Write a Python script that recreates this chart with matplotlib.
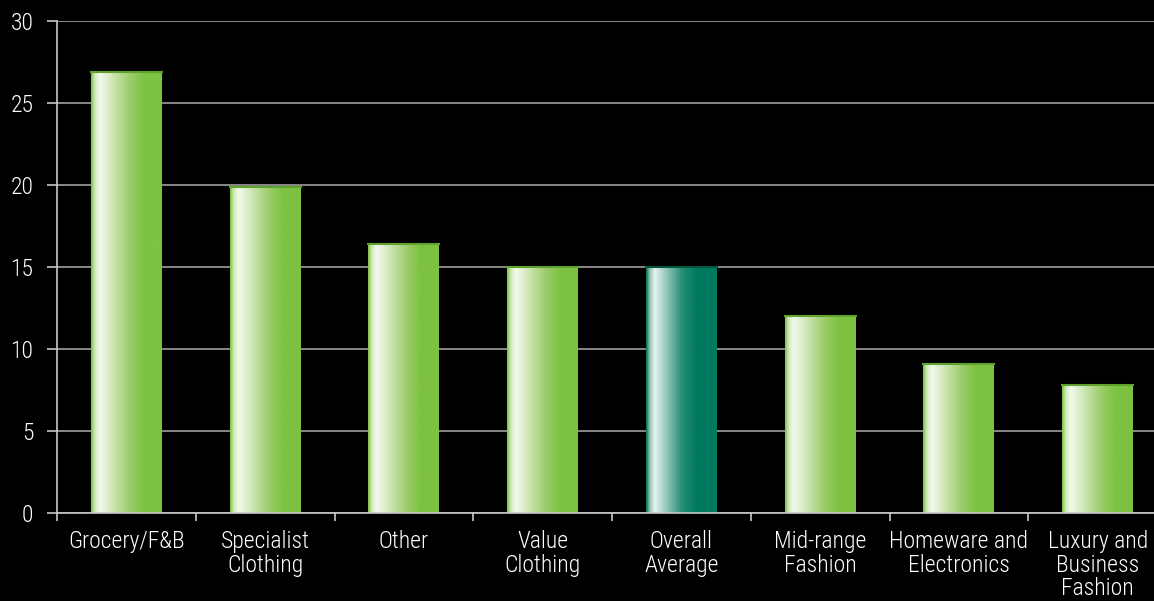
import numpy as np
import matplotlib as mpl
from matplotlib import pyplot as plt
from matplotlib.colors import LinearSegmentedColormap

categories = ['Grocery/F&B', 'Specialist\nClothing', 'Other', 'Value\nClothing',
              'Overall\nAverage', 'Mid-range\nFashion', 'Homeware and\nElectronics',
              'Luxury and\nBusiness\nFashion']
values = [26.9, 19.9, 16.4, 15.0, 15.0, 12.0, 9.1, 7.8]
highlight = 'Overall\nAverage'

mpl.rc('font', family=['Roboto Condensed', 'Archivo Narrow', 'DejaVu Sans'], weight=300)

# gradient along the bar width: green edge, white streak, fade back to green
green_cmap = LinearSegmentedColormap.from_list(
    'green', [(0.0, '#7DC242'), (0.05, '#cfe8b4'), (0.12, '#f4faee'),
              (0.55, '#9ccc6a'), (0.75, '#7DC242'), (1.0, '#7DC242')])
teal_cmap = LinearSegmentedColormap.from_list(
    'teal', [(0.0, '#006b50'), (0.05, '#8fbfb0'), (0.12, '#e8f2ef'),
             (0.5, '#2a9077'), (0.7, '#007a5e'), (1.0, '#007a5e')])
grad = np.linspace(0, 1, 256).reshape(1, -1)

fig = plt.figure(figsize=(11.54, 6.01), dpi=100, facecolor='black')
# plot area runs a little past the right edge of the picture
ax = fig.add_axes([57 / 1154, 1 - 513 / 601, 1110 / 1154, 492 / 601])
ax.set_facecolor('black')

x = np.arange(len(categories))
bars = ax.bar(x, values, width=0.51, color='none', zorder=3)
for b, cat in zip(bars, categories):
    cmap = teal_cmap if cat == highlight else green_cmap
    x0, w, h = b.get_x(), b.get_width(), b.get_height()
    im = ax.imshow(grad, cmap=cmap, extent=[x0, x0 + w, 0, h],
                   aspect='auto', zorder=3, interpolation='bilinear')
    im.set_clip_path(b)
    edge = '#00573f' if cat == highlight else '#5fa32e'
    ax.plot([x0, x0 + w], [h, h], color=edge, lw=1.5, zorder=4)

ax.set_xlim(-0.5, len(categories) - 0.5)
ax.set_ylim(0, 30)
ax.set_yticks(np.arange(0, 31, 5))
ax.yaxis.grid(True, color='#a0a0a0', lw=1.2, zorder=1)
ax.set_axisbelow(True)

ax.set_xticks(x)
ax.set_xticklabels(categories, color='white', fontsize=17, linespacing=1.05)
ax.tick_params(axis='x', length=0, pad=12)
ax.set_xticks(np.arange(-0.5, len(categories)), minor=True)
ax.tick_params(axis='x', which='minor', length=6, color='#c8c8c8', width=1.2)
ax.tick_params(axis='y', colors='white', labelsize=17, length=7,
               width=1.2, pad=10)
ax.tick_params(axis='y', color='#c8c8c8')

for s in ['top', 'right']:
    ax.spines[s].set_visible(False)
for s in ['left', 'bottom']:
    ax.spines[s].set_color('#c8c8c8')
    ax.spines[s].set_linewidth(1.2)
ax.spines['bottom'].set_zorder(5)

fig.savefig('out.png', dpi=100, facecolor='black')
